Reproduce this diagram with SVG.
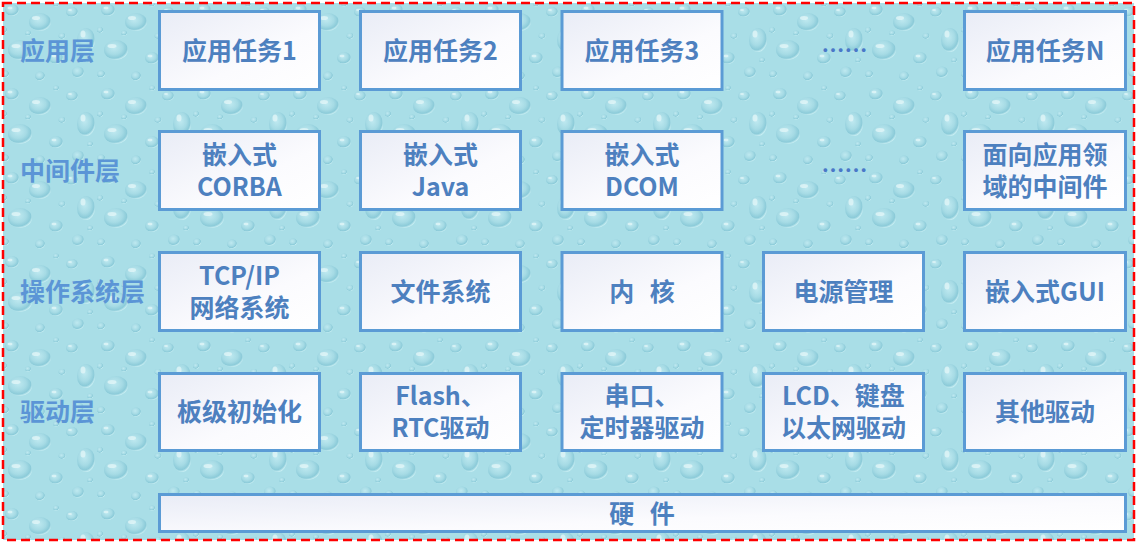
<svg xmlns="http://www.w3.org/2000/svg" width="1138" height="545" viewBox="0 0 1138 545">
  <defs>
    <radialGradient id="drop" cx="0.42" cy="0.38" r="0.62">
      <stop offset="0" stop-color="#bfe9f0"/>
      <stop offset="0.55" stop-color="#a6dbe5"/>
      <stop offset="0.85" stop-color="#8ccbd9"/>
      <stop offset="1" stop-color="#c6edf2"/>
    </radialGradient>
    <linearGradient id="boxfill" x1="0" y1="0" x2="1" y2="1">
      <stop offset="0" stop-color="#e9ecf6"/>
      <stop offset="0.6" stop-color="#fbfbfe"/>
      <stop offset="1" stop-color="#ffffff"/>
    </linearGradient>
    <pattern id="drops" x="0" y="0" width="96" height="84" patternUnits="userSpaceOnUse">
      <rect width="96" height="84" fill="#a9dee7"/>
      <g fill="url(#drop)">
        <ellipse cx="12" cy="10" rx="7" ry="6"/>
        <ellipse cx="40" cy="22" rx="11" ry="9"/>
        <ellipse cx="72" cy="12" rx="6" ry="5"/>
        <ellipse cx="86" cy="40" rx="9" ry="12"/>
        <ellipse cx="20" cy="50" rx="12" ry="10"/>
        <ellipse cx="56" cy="58" rx="7" ry="6"/>
        <ellipse cx="40" cy="76" rx="5" ry="4.5"/>
        <ellipse cx="78" cy="72" rx="6" ry="5.5"/>
        <ellipse cx="5" cy="74" rx="4" ry="3.5"/>
        <ellipse cx="62" cy="36" rx="3.5" ry="3"/>
        <ellipse cx="28" cy="33" rx="3" ry="2.5"/>
        <ellipse cx="4" cy="30" rx="3" ry="3"/>
        <ellipse cx="56" cy="4" rx="3" ry="2.5"/>
        <ellipse cx="90" cy="60" rx="3" ry="2.5"/>
      </g>
      <g fill="#e4f7f9" opacity="0.75">
        <ellipse cx="10" cy="8" rx="2.5" ry="1.2"/>
        <ellipse cx="36" cy="18" rx="4" ry="2"/>
        <ellipse cx="70" cy="10" rx="2" ry="1"/>
        <ellipse cx="83" cy="34" rx="2.5" ry="3.5"/>
        <ellipse cx="16" cy="46" rx="4.5" ry="2"/>
        <ellipse cx="54" cy="56" rx="2.5" ry="1.2"/>
      </g>
    </pattern>
    <style>
      .box { fill: url(#boxfill); stroke: #5b9bd5; stroke-width: 3; }
      .t { font-family: "Noto Sans CJK SC", "Noto Sans", sans-serif; font-weight: bold; font-size: 25px; fill: #4d80bf; text-anchor: middle; dominant-baseline: central; }
      .lbl { font-family: "Noto Sans CJK SC", "Noto Sans", sans-serif; font-weight: bold; font-size: 25px; fill: #5b95d6; dominant-baseline: central; }
      .dots { font-family: "Noto Sans CJK SC", sans-serif; font-weight: bold; font-size: 23px; fill: #4a78c8; text-anchor: middle; dominant-baseline: central; }
      .sp { word-spacing: 10px; }
    </style>
  </defs>

  <rect x="0" y="0" width="1138" height="545" fill="#ffffff"/>
  <rect x="3" y="3" width="1131" height="537" fill="url(#drops)"/>
  <rect x="3" y="3" width="1131" height="537" fill="none" stroke="#ff0000" stroke-width="2.5" stroke-dasharray="9 5"/>

  <g id="layer-labels">
    <text class="lbl" x="20" y="48.5">应用层</text>
    <text class="lbl" x="20" y="168.5">中间件层</text>
    <text class="lbl" x="20" y="289.5">操作系统层</text>
    <text class="lbl" x="20" y="409.5">驱动层</text>
  </g>

  <!-- Application layer -->
  <g id="app1"><rect class="box" x="159.5" y="11.5" width="160" height="78"/><text class="t" x="239.5" y="48.5">应用任务1</text></g>
  <g id="app2"><rect class="box" x="360.5" y="11.5" width="160" height="78"/><text class="t" x="440.5" y="48.5">应用任务2</text></g>
  <g id="app3"><rect class="box" x="562" y="11.5" width="160" height="78"/><text class="t" x="642" y="48.5">应用任务3</text></g>
  <g id="app-more"><text class="dots" x="844.5" y="48.5">……</text></g>
  <g id="appN"><rect class="box" x="964.5" y="11.5" width="161" height="78"/><text class="t" x="1045" y="48.5">应用任务N</text></g>

  <!-- Middleware layer -->
  <g id="mw-corba"><rect class="box" x="159.5" y="131.5" width="160" height="78"/><text class="t" x="239.5" y="153"><tspan x="239.5">嵌入式</tspan><tspan x="239.5" dy="32">CORBA</tspan></text></g>
  <g id="mw-java"><rect class="box" x="360.5" y="131.5" width="160" height="78"/><text class="t" x="440.5" y="153"><tspan x="440.5">嵌入式</tspan><tspan x="440.5" dy="32">Java</tspan></text></g>
  <g id="mw-dcom"><rect class="box" x="562" y="131.5" width="160" height="78"/><text class="t" x="642" y="153"><tspan x="642">嵌入式</tspan><tspan x="642" dy="32">DCOM</tspan></text></g>
  <g id="mw-more"><text class="dots" x="844.5" y="168.5">……</text></g>
  <g id="mw-domain"><rect class="box" x="964.5" y="131.5" width="161" height="78"/><text class="t" x="1045" y="153"><tspan x="1045">面向应用领</tspan><tspan x="1045" dy="32">域的中间件</tspan></text></g>

  <!-- OS layer -->
  <g id="os-tcpip"><rect class="box" x="159.5" y="252.5" width="160" height="78"/><text class="t" x="239.5" y="274"><tspan x="239.5">TCP/IP</tspan><tspan x="239.5" dy="32">网络系统</tspan></text></g>
  <g id="os-fs"><rect class="box" x="360.5" y="252.5" width="160" height="78"/><text class="t" x="440.5" y="289.5">文件系统</text></g>
  <g id="os-kernel"><rect class="box" x="562" y="252.5" width="160" height="78"/><text class="t sp" x="642" y="289.5">内 核</text></g>
  <g id="os-power"><rect class="box" x="763.5" y="252.5" width="160" height="78"/><text class="t" x="843.5" y="289.5">电源管理</text></g>
  <g id="os-gui"><rect class="box" x="964.5" y="252.5" width="161" height="78"/><text class="t" x="1045" y="289.5">嵌入式GUI</text></g>

  <!-- Driver layer -->
  <g id="drv-board"><rect class="box" x="159.5" y="373.5" width="160" height="77"/><text class="t" x="239.5" y="409.5">板级初始化</text></g>
  <g id="drv-flash"><rect class="box" x="360.5" y="373.5" width="160" height="77"/><text class="t" x="440.5" y="394"><tspan x="440.5">Flash、</tspan><tspan x="440.5" dy="32">RTC驱动</tspan></text></g>
  <g id="drv-serial"><rect class="box" x="562" y="373.5" width="160" height="77"/><text class="t" x="642" y="394"><tspan x="642">串口、</tspan><tspan x="642" dy="32">定时器驱动</tspan></text></g>
  <g id="drv-lcd"><rect class="box" x="763.5" y="373.5" width="160" height="77"/><text class="t" x="843.5" y="394"><tspan x="843.5">LCD、键盘</tspan><tspan x="843.5" dy="32">以太网驱动</tspan></text></g>
  <g id="drv-other"><rect class="box" x="964.5" y="373.5" width="161" height="77"/><text class="t" x="1045" y="409.5">其他驱动</text></g>

  <!-- Hardware -->
  <g id="hardware"><rect class="box" x="159.5" y="494.5" width="966" height="37"/><text class="t sp" x="642" y="511.5">硬 件</text></g>

  <g id="connectors"/>
</svg>
